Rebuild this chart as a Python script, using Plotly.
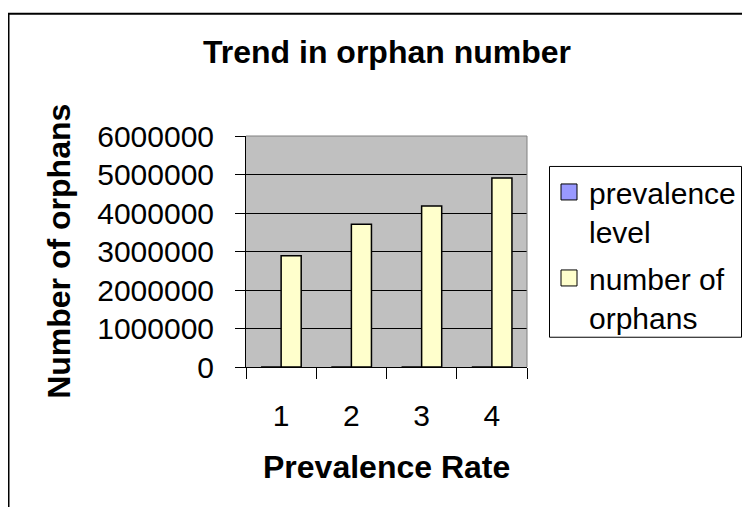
import plotly.graph_objects as go

categories = ["1", "2", "3", "4"]
prevalence_level = [1, 2, 3, 4]
number_of_orphans = [2890000, 3710000, 4180000, 4910000]
y_ticks = [0, 1000000, 2000000, 3000000, 4000000, 5000000, 6000000]
y_tick_labels = ["0", "1000000", "2000000", "3000000", "4000000", "5000000", "6000000"]
series_names = ["prevalence<br>level", "number of<br>orphans"]
series_colors = ["#9999FF", "#FFFFCC"]

FONT = "Liberation Sans, Arial, sans-serif"

# the page body has an 8px margin on every side: size the figure so the
# page does not overflow, and work in screen pixels shifted by OFF
OFF = 8
W, H = 750 - 2 * OFF, 515 - 2 * OFF
# plot area in screen pixels
SL, SR, ST, SB = 246, 527, 136, 367.3
L, R, T, B = SL - OFF, SR - OFF, ST - OFF, SB - OFF
pw, ph = R - L, B - T


def px(x):
    return (x - OFF - L) / pw


def py(y):
    return (B - (y - OFF)) / ph


fig = go.Figure()
for name, vals, col in zip(series_names, [prevalence_level, number_of_orphans], series_colors):
    fig.add_trace(go.Bar(
        x=categories, y=vals, name=name, showlegend=False, legendgroup=name,
        marker=dict(color=col, line=dict(color="black", width=1.5)),
    ))
# legend entries (square keys like the original)
for name, col in zip(series_names, series_colors):
    fig.add_trace(go.Scatter(
        x=[None], y=[None], mode="markers", name=name, legendgroup=name,
        marker=dict(symbol="square", size=16, color=col, line=dict(color="black", width=1)),
    ))

fig.update_layout(
    width=W, height=H,
    margin=dict(l=L, r=W - R, t=T, b=H - B, autoexpand=False),
    paper_bgcolor="white",
    plot_bgcolor="#C0C0C0",
    barmode="group",
    bargap=1.5 / 3.5,
    bargroupgap=0,
    font=dict(family=FONT, size=30, color="black"),
    title=dict(
        text="<b>Trend in orphan number</b>",
        x=(387 - OFF) / W, xref="container", xanchor="center",
        y=1 - (52 - OFF) / H, yref="container", yanchor="middle",
        font=dict(size=32, family=FONT, color="black"),
    ),
    showlegend=True,
    legend=dict(
        x=px(549), y=py(166), xanchor="left", yanchor="top",
        borderwidth=0, bgcolor="rgba(0,0,0,0)",
        valign="top", font=dict(size=30, family=FONT, color="black"),
        traceorder="grouped", tracegroupgap=5,
    ),
    xaxis=dict(
        type="category", showline=True, linecolor="black", linewidth=1,
        ticks="outside", ticklen=11, tickcolor="black", tickwidth=1,
        tickson="boundaries", showgrid=False, ticklabelstandoff=22,
        tickfont=dict(size=30), range=[-0.5, 3.5],
    ),
    yaxis=dict(
        range=[0, 6000000], tickvals=y_ticks, ticktext=y_tick_labels,
        showline=True, linecolor="black", linewidth=1,
        ticks="outside", ticklen=10, tickcolor="black", tickwidth=1,
        showgrid=True, gridcolor="black", gridwidth=1, zeroline=False,
        ticklabelstandoff=15, tickfont=dict(size=30),
    ),
    annotations=[
        dict(text="<b>Number of orphans</b>", textangle=-90,
             x=px(59), y=py(252), xref="paper", yref="paper",
             xanchor="center", yanchor="middle", showarrow=False,
             font=dict(size=32, family=FONT, color="black")),
        dict(text="<b>Prevalence Rate</b>",
             x=px(386), y=py(467), xref="paper", yref="paper",
             xanchor="center", yanchor="middle", showarrow=False,
             font=dict(size=32, family=FONT, color="black")),
    ],
    shapes=[
        # plot-area frame (top and right edges, gray)
        dict(type="line", xref="paper", yref="paper", x0=0, x1=1, y0=1, y1=1,
             line=dict(color="#808080", width=1), layer="above"),
        dict(type="line", xref="paper", yref="paper", x0=1, x1=1, y0=0, y1=1,
             line=dict(color="#808080", width=1), layer="above"),
        # legend frame
        dict(type="rect", xref="paper", yref="paper",
             x0=px(549.5), x1=px(741.5), y0=py(166.5), y1=py(337.5),
             line=dict(color="black", width=1), fillcolor="rgba(0,0,0,0)"),
        # chart outer border
        dict(type="rect", xref="paper", yref="paper",
             x0=px(OFF + 0.5), x1=px(800), y0=py(13.5), y1=py(560),
             line=dict(color="black", width=2), fillcolor="rgba(0,0,0,0)"),
    ],
)

fig.write_html("out.html")
